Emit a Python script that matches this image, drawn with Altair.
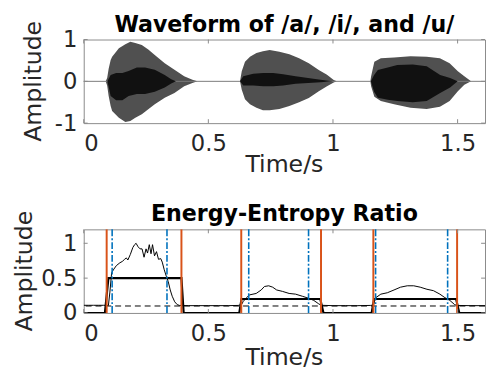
import altair as alt
import pandas as pd

# ---------------- data ----------------
# Top panel: waveform envelope (outer) and dense dark core
wave_t = [0.0, 0.088, 0.094, 0.100, 0.108, 0.114, 0.141, 0.167, 0.187, 0.207, 0.233, 0.259,
          0.285, 0.325, 0.364, 0.403, 0.436, 0.456, 0.627, 0.634, 0.647, 0.667, 0.693, 0.719,
          0.746, 0.785, 0.825, 0.864, 0.903, 0.943, 0.976, 1.003, 1.015, 1.150, 1.153, 1.166,
          1.192, 1.245, 1.311, 1.376, 1.429, 1.468, 1.501, 1.527, 1.554, 1.610]
wave_upper = [0, 0, 0.08, 0.30, 0.51, 0.59, 0.79, 0.89, 0.95, 0.92, 0.87, 0.76,
              0.63, 0.43, 0.28, 0.12, 0.04, 0, 0, 0.24, 0.47, 0.59, 0.68, 0.72,
              0.75, 0.71, 0.65, 0.55, 0.43, 0.27, 0.16, 0.03, 0, 0, 0.12, 0.47,
              0.55, 0.57, 0.60, 0.59, 0.55, 0.43, 0.24, 0.12, 0, 0]
wave_lower = [0, 0, -0.10, -0.35, -0.59, -0.71, -0.87, -0.97, -0.95, -0.87, -0.79, -0.67,
              -0.55, -0.39, -0.28, -0.12, -0.04, 0, 0, -0.20, -0.43, -0.55, -0.63, -0.69,
              -0.69, -0.66, -0.59, -0.50, -0.40, -0.24, -0.12, -0.03, 0, 0, -0.12, -0.37,
              -0.47, -0.55, -0.63, -0.66, -0.61, -0.47, -0.24, -0.08, 0, 0]

core_t = [0.095, 0.108, 0.130, 0.155, 0.180, 0.213, 0.246, 0.285, 0.325, 0.351, 0.370,
          0.627, 0.640, 0.680, 0.720, 0.760, 0.800, 0.850, 0.900, 0.950, 1.000,
          1.152, 1.165, 1.180, 1.220, 1.258, 1.320, 1.376, 1.430, 1.470, 1.500]
core_upper = [0, 0.15, 0.20, 0.20, 0.25, 0.33, 0.33, 0.28, 0.15, 0.05, 0,
              0, 0.12, 0.18, 0.20, 0.20, 0.17, 0.12, 0.08, 0.04, 0,
              0, 0.15, 0.27, 0.33, 0.39, 0.40, 0.36, 0.15, 0.08, 0]
core_lower = [0, -0.35, -0.45, -0.45, -0.35, -0.30, -0.30, -0.25, -0.15, -0.05, 0,
              0, -0.10, -0.10, -0.12, -0.12, -0.10, -0.06, -0.04, -0.02, 0,
              0, -0.25, -0.39, -0.44, -0.47, -0.50, -0.47, -0.28, -0.15, 0]

# Bottom panel: energy-entropy ratio curve
eer_t = [0.0, 0.02, 0.04, 0.06, 0.08, 0.099, 0.105, 0.112, 0.121, 0.131, 0.145, 0.155, 0.164,
         0.171, 0.177, 0.187, 0.197, 0.204, 0.210, 0.218, 0.226, 0.234, 0.242, 0.250, 0.256,
         0.263, 0.270, 0.276, 0.284, 0.292, 0.300, 0.309, 0.315, 0.323, 0.331, 0.339, 0.347,
         0.355, 0.365, 0.375, 0.384, 0.42, 0.46, 0.50, 0.54, 0.58, 0.62, 0.633, 0.640, 0.653,
         0.666, 0.692, 0.712, 0.725, 0.742, 0.758, 0.774, 0.797, 0.824, 0.850, 0.877, 0.903,
         0.923, 0.943, 0.953, 1.00, 1.05, 1.10, 1.15, 1.162, 1.172, 1.192, 1.218, 1.245,
         1.271, 1.298, 1.324, 1.350, 1.377, 1.403, 1.429, 1.449, 1.469, 1.488, 1.497, 1.55, 1.61]
eer_v = [0.11, 0.11, 0.11, 0.11, 0.11, 0.108, 0.30, 0.58, 0.63, 0.68, 0.72, 0.74, 0.77,
         0.79, 0.76, 0.84, 0.94, 0.98, 1.00, 0.95, 0.92, 0.92, 0.80, 0.92, 0.86,
         0.98, 0.85, 0.98, 0.82, 0.88, 0.77, 0.78, 0.73, 0.62, 0.53, 0.45, 0.33,
         0.24, 0.16, 0.12, 0.108, 0.105, 0.105, 0.105, 0.105, 0.105, 0.108, 0.12, 0.165, 0.22,
         0.26, 0.28, 0.33, 0.38, 0.39, 0.37, 0.33, 0.31, 0.28, 0.27, 0.24, 0.21,
         0.18, 0.13, 0.11, 0.105, 0.105, 0.105, 0.108, 0.115, 0.22, 0.27, 0.29, 0.33,
         0.37, 0.39, 0.39, 0.37, 0.34, 0.32, 0.27, 0.22, 0.18, 0.12, 0.108, 0.105, 0.105]

# Bottom panel: thick step (segment level)
step_t = [0.0, 0.085, 0.099, 0.392, 0.401, 0.624, 0.633, 0.949, 0.962, 1.155, 1.165, 1.494, 1.507, 1.61]
step_v = [0, 0, 0.5, 0.5, 0, 0, 0.2, 0.2, 0, 0, 0.2, 0.2, 0, 0]

threshold = [0.1]
orange_x = [0.092, 0.392, 0.632, 0.952, 1.162, 1.498]
blue_x = [0.114, 0.334, 0.662, 0.902, 1.171, 1.460]

x_ticks = [0, 0.5, 1, 1.5]
top_yticks = [-1, 0, 1]
bot_yticks = [0, 0.5, 1]

titles = ["Waveform of /a/, /i/, and /u/", "Energy-Entropy Ratio"]
x_title = "Time/s"
y_title = "Amplitude"

# ---------------- styling ----------------
W, H = 408, 85
LEFT = 76          # room left of each plot
TOPROOM = 28       # room above each plot
FONT = "DejaVu Sans"
TXT = "#262626"
BOX = "#8a8a8a"
ORANGE = "#D95319"
BLUE = "#0072BD"

xscale = alt.Scale(domain=[0, 1.61], nice=False, zero=False)
top_yscale = alt.Scale(domain=[-1, 1], nice=False, zero=False)
bot_yscale = alt.Scale(domain=[0, 1.2], nice=False, zero=False)

LABEL_EXPR = "datum.value < 0 ? '-' + format(-datum.value, '~g') : format(datum.value, '~g')"
XAX = alt.Axis(values=x_ticks, labelExpr=LABEL_EXPR, title=None, labelPadding=10)
TOPYAX = alt.Axis(values=top_yticks, labelExpr=LABEL_EXPR, title=None, labelPadding=7)
BOTYAX = alt.Axis(values=bot_yticks, labelExpr=LABEL_EXPR, title=None, labelPadding=7)

one = pd.DataFrame({"k": [0]})


def X(field):
    return alt.X(field, scale=xscale, axis=XAX)


def TY(field):
    return alt.Y(field, scale=top_yscale, axis=TOPYAX)


def BY(field):
    return alt.Y(field, scale=bot_yscale, axis=BOTYAX)


def decorations(yscale, yvals, yax, title_text, ytitle_x, xtitle_dy):
    xt = pd.DataFrame({"xt": x_ticks})
    yt = pd.DataFrame({"yt": yvals})
    out = [
        alt.Chart(xt).mark_rule(color=BOX, strokeWidth=1).encode(
            x=X("xt:Q"), y=alt.value(H), y2=alt.value(H - 4)),
        alt.Chart(xt).mark_rule(color=BOX, strokeWidth=1).encode(
            x=X("xt:Q"), y=alt.value(0), y2=alt.value(4)),
        alt.Chart(yt).mark_rule(color=BOX, strokeWidth=1).encode(
            y=alt.Y("yt:Q", scale=yscale, axis=yax), x=alt.value(0), x2=alt.value(4)),
        alt.Chart(yt).mark_rule(color=BOX, strokeWidth=1).encode(
            y=alt.Y("yt:Q", scale=yscale, axis=yax), x=alt.value(W), x2=alt.value(W - 4)),
        # panel title
        alt.Chart(one).mark_text(text=title_text, font=FONT, fontSize=22.5, fontWeight="bold",
                                 color="black", align="center", baseline="alphabetic").encode(
            x=alt.value(W / 2), y=alt.value(-8)),
        # y-axis title
        alt.Chart(one).mark_text(text=y_title, font=FONT, fontSize=24, color=TXT, angle=270,
                                 align="center", baseline="alphabetic").encode(
            x=alt.value(ytitle_x), y=alt.value(H / 2)),
        # x-axis title
        alt.Chart(one).mark_text(text=x_title, font=FONT, fontSize=24, color=TXT,
                                 align="center", baseline="alphabetic").encode(
            x=alt.value(W / 2), y=alt.value(H + xtitle_dy)),
        # invisible frame that fixes the panel's outer extent
        alt.Chart(one).mark_rule(color="white", strokeWidth=1).encode(
            x=alt.value(-LEFT), y=alt.value(-TOPROOM), y2=alt.value(H + 56)),
    ]
    return out


# ---------------- top panel ----------------
wave_df = pd.DataFrame({"t": wave_t, "up": wave_upper, "lo": wave_lower})
core_df = pd.DataFrame({"t": core_t, "up": core_upper, "lo": core_lower})

outer = alt.Chart(wave_df).mark_area(color="#505050", clip=True).encode(
    x=X("t:Q"), y=TY("up:Q"), y2="lo:Q")
core = alt.Chart(core_df).mark_area(color="#111111", clip=True).encode(
    x=X("t:Q"), y=TY("up:Q"), y2="lo:Q")
zero_line = alt.Chart(pd.DataFrame({"z": [0]})).mark_rule(color="#7a7a7a", strokeWidth=1).encode(
    y=TY("z:Q"))

top = alt.layer(outer, zero_line, core,
                *decorations(top_yscale, top_yticks, TOPYAX, titles[0], -43, 50)).properties(
    width=W, height=H)

# ---------------- bottom panel ----------------
eer_df = pd.DataFrame({"t": eer_t, "v": eer_v})
step_df = pd.DataFrame({"t": step_t, "v": step_v})

curve = alt.Chart(eer_df).mark_line(color="black", strokeWidth=1, clip=True).encode(
    x=X("t:Q"), y=BY("v:Q"))
step = alt.Chart(step_df).mark_line(color="black", strokeWidth=2.2, clip=True).encode(
    x=X("t:Q"), y=BY("v:Q"))
thr = alt.Chart(pd.DataFrame({"th": threshold})).mark_rule(
    color="black", strokeWidth=1, strokeDash=[6, 4]).encode(y=BY("th:Q"))
orange = alt.Chart(pd.DataFrame({"ox": orange_x})).mark_rule(color=ORANGE, strokeWidth=2).encode(
    x=X("ox:Q"))
blue = alt.Chart(pd.DataFrame({"bx": blue_x})).mark_rule(
    color=BLUE, strokeWidth=1.6, strokeDash=[7, 2, 2, 2]).encode(x=X("bx:Q"))

bottom = alt.layer(curve, thr, step, blue, orange,
                   *decorations(bot_yscale, bot_yticks, BOTYAX, titles[1], -53, 53)).properties(
    width=W, height=H)

chart = (
    alt.vconcat(top, bottom, spacing=22)
    .configure_view(stroke=BOX, strokeWidth=1)
    .configure_axis(
        domain=False, ticks=False, grid=False,
        labelFont=FONT, labelFontSize=23, labelColor=TXT,
    )
    .properties(background="white", padding={"left": 0, "top": 0, "right": 0, "bottom": 0})
)

chart.save("out.html", embed_options={"renderer": "svg", "actions": False})
